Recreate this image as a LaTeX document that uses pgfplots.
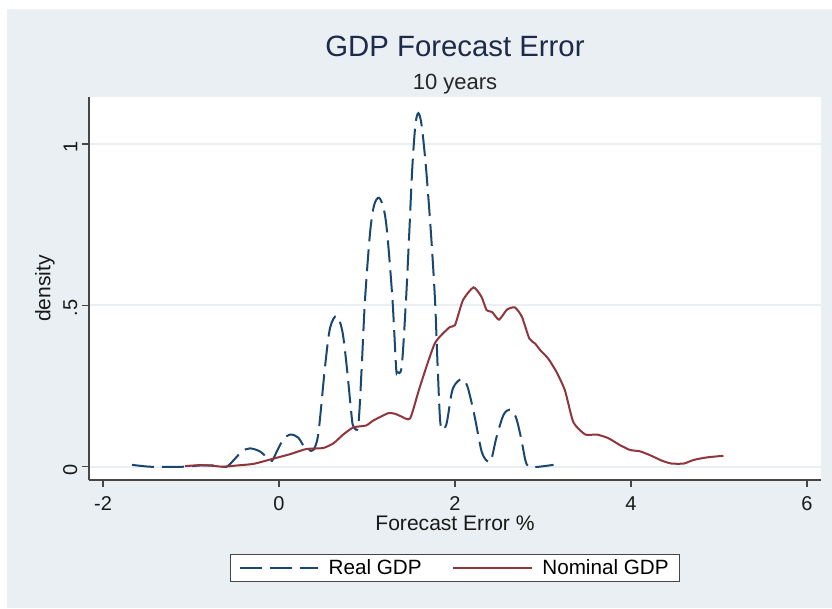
\documentclass[border=0pt]{standalone}
\usepackage{fontspec}
\setmainfont{Liberation Sans}
\usepackage{pgfplots}
\pgfplotsset{compat=1.18}
\definecolor{bgc}{RGB}{233,239,242}
\definecolor{gridc}{RGB}{234,240,242}
\definecolor{realc}{RGB}{26,71,111}
\definecolor{nomc}{RGB}{144,53,59}
\definecolor{titc}{RGB}{30,42,74}
\definecolor{axc}{RGB}{70,70,70}
\begin{document}
\begin{tikzpicture}
\fill[white] (0,0) rectangle (624pt,456pt);
\fill[bgc] (5.25pt,0) rectangle (624pt,449.25pt);
\node[anchor=base, text=titc, font=\fontsize{22}{26}\selectfont] at (341.25pt,413.25pt) {GDP Forecast Error};
\node[anchor=base, text=black!85, font=\fontsize{16.5}{20}\selectfont] at (341.25pt,388.5pt) {10 years};
\begin{axis}[
  at={(66.75pt,96pt)}, anchor=south west,
  scale only axis, width=549pt, height=287.25pt,
  xmin=-2.159, xmax=6.159, ymin=-0.041, ymax=1.146,
  axis x line*=bottom, axis y line*=left,
  axis line style={axc, line width=1.1pt, -},
  axis background/.style={fill=white},
  xtick={-2,0,2,4,6},
  ytick={0,0.5,1}, yticklabels={0,.5,1},
  tick align=outside, major tick length=5.25pt,
  tick style={axc, line width=1pt},
  ymajorgrids, xmajorgrids=false,
  grid style={gridc, line width=1.5pt},
  /pgf/number format/assume math mode=true,
  ticklabel style={font=\fontsize{15}{18}\selectfont, text=black!90},
  xticklabel style={yshift=-3.75pt},
  yticklabel style={rotate=90, anchor=south, xshift=-2pt},
  xlabel={Forecast Error \%}, ylabel={density},
  label style={font=\fontsize{15.8}{19}\selectfont, text=black!90},
  xlabel style={at={(axis description cs:0.5,-0.112)}, anchor=center},
  ylabel style={at={(axis description cs:-0.0601,0.5)}, anchor=center, rotate=0},
  legend columns=2,
  legend style={at={(axis description cs:0.5,-0.2298)}, anchor=center,
    draw=axc, line width=0.9pt, fill=white, font=\fontsize{15.5}{18}\selectfont,
    inner xsep=6pt, inner ysep=2pt,
    /tikz/every odd column/.style={column sep=5pt},
    /tikz/every even column/.style={column sep=21pt}},
  legend image code/.code={\draw[#1] (0pt,0pt) -- (59pt,0pt);},
]
\addplot[realc, line width=1.5pt, dash pattern=on 16.5pt off 6pt, smooth, tension=0.5] coordinates {
(-1.67,0.006) (-1.45,0.0) (-1.1,0.0) (-0.9,0.004) (-0.75,0.004) (-0.6,0.0)
(-0.5,0.025) (-0.42,0.048) (-0.33,0.057) (-0.22,0.048) (-0.12,0.025) (-0.08,0.018)
(-0.02,0.05) (0.05,0.085) (0.13,0.10) (0.22,0.09) (0.30,0.055) (0.34,0.052)
(0.39,0.052) (0.447,0.103) (0.523,0.31) (0.58,0.43) (0.655,0.468) (0.72,0.42)
(0.77,0.31) (0.826,0.155) (0.845,0.126) (0.90,0.126)
(0.94,0.31) (0.977,0.516) (1.034,0.723) (1.08,0.81) (1.136,0.834) (1.19,0.80)
(1.23,0.723) (1.29,0.516) (1.33,0.31) (1.344,0.294) (1.394,0.31)
(1.443,0.516) (1.48,0.723) (1.515,0.928) (1.55,1.06) (1.583,1.096) (1.62,1.06)
(1.67,0.928) (1.727,0.723) (1.773,0.516) (1.803,0.31) (1.837,0.128) (1.90,0.13)
(1.96,0.226) (2.0,0.255) (2.076,0.272) (2.14,0.25) (2.22,0.16) (2.30,0.05)
(2.36,0.019) (2.41,0.02) (2.47,0.09) (2.55,0.16) (2.62,0.177) (2.69,0.155)
(2.75,0.09) (2.80,0.02) (2.84,0.0) (2.95,0.0) (3.12,0.006)
};
\addlegendentry{Real GDP}
\addplot[nomc, line width=1.5pt, smooth, tension=0.35] coordinates {
(-1.07,0.002) (-0.90,0.005) (-0.75,0.003) (-0.63,0.0) (-0.48,0.004) (-0.29,0.009)
(-0.08,0.024) (0.125,0.039) (0.31,0.055) (0.50,0.058) (0.62,0.073) (0.73,0.10)
(0.845,0.122) (0.99,0.128) (1.07,0.143) (1.24,0.166) (1.32,0.164) (1.39,0.156)
(1.49,0.15) (1.60,0.247) (1.77,0.382) (1.94,0.433) (2.0,0.439) (2.09,0.516)
(2.21,0.556) (2.30,0.527) (2.36,0.485) (2.42,0.48) (2.50,0.456) (2.59,0.487)
(2.68,0.494) (2.76,0.465) (2.845,0.397) (2.91,0.382) (2.97,0.361) (3.06,0.335)
(3.155,0.293) (3.25,0.236) (3.345,0.138) (3.48,0.10) (3.61,0.10) (3.74,0.089)
(3.875,0.067) (3.99,0.052) (4.10,0.048) (4.216,0.036) (4.35,0.019) (4.46,0.010)
(4.60,0.010) (4.71,0.021) (4.86,0.029) (5.05,0.034)
};
\addlegendentry{Nominal GDP}
\end{axis}
\end{tikzpicture}
\end{document}
